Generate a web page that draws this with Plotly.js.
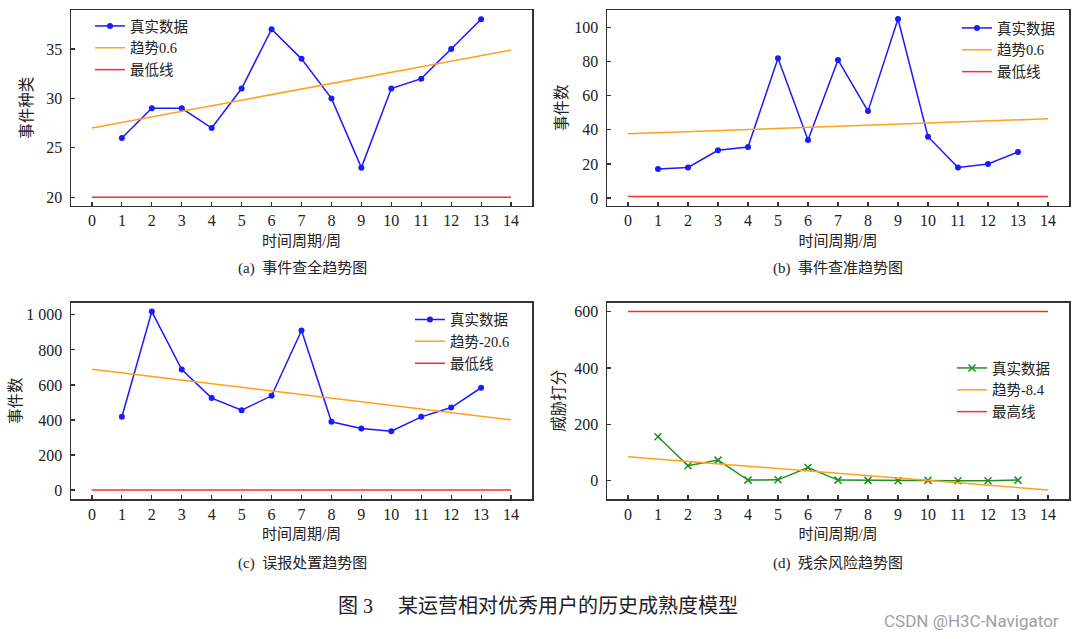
<!DOCTYPE html>
<html>
<head>
<meta charset="utf-8">
<script src="https://cdn.plot.ly/plotly-3.0.1.min.js"></script>
<style>html,body{margin:0;padding:0;background:#fff;}#chart{width:1080px;height:639px;}</style>
</head>
<body>
<div id="chart"></div>
<script>
// ---- data ----
const weeks = [1,2,3,4,5,6,7,8,9,10,11,12,13];
const lineX = [0, 14];

const realA = [26,29,29,27,31,37,34,30,23,31,32,35,38];
const trendA = [27.0, 34.9];
const minA = [20, 20];

const realB = [17,18,28,30,82,34,81,51,105,36,18,20,27];
const trendB = [37.7, 46.5];
const minB = [1, 1];

const realC = [418,1019,688,525,456,538,911,390,352,336,418,471,584];
const trendC = [690, 401];
const minC = [0, 0];

const realD = [156,53,73,2,3,47,2,1,0,1,0,0,2];
const trendD = [85, -33];
const maxD = [600, 600];

const xTicks = [0,1,2,3,4,5,6,7,8,9,10,11,12,13,14];
const legendNames = {
  real: '真实数据',
  trendA: '趋势0.6', trendB: '趋势0.6', trendC: '趋势-20.6', trendD: '趋势-8.4',
  minLine: '最低线', maxLine: '最高线'
};
const yTitles = ['事件种类', '事件数', '事件数', '威胁打分'];
const xTitle = '时间周期/周';
const captions = ['(a)  事件查全趋势图', '(b)  事件查准趋势图', '(c)  误报处置趋势图', '(d)  残余风险趋势图'];
const figCaption = '图 3　 某运营相对优秀用户的历史成熟度模型';
const watermark = 'CSDN @H3C-Navigator';

// ---- styling ----
const FONT = '"Liberation Serif", "Times New Roman", "DejaVu Serif", "Noto Sans CJK SC", serif';
const BLUE = '#1a1aff', ORANGE = '#ffa21a', RED = '#ff2a2a', GREEN = '#1f8f1f';
const W = 1080, H = 639;
const px = v => v / W;
const py = v => 1 - v / H;

function realTrace(y, xa, ya, leg, color, symbol) {
  const t = {x: weeks, y: y, xaxis: xa, yaxis: ya, legend: leg, name: legendNames.real,
    mode: 'lines+markers', line: {color: color, width: 1.5},
    marker: {color: color, size: 6, symbol: symbol}};
  if (symbol === 'x-thin') t.marker = {color: color, size: 7, symbol: 'x-thin', line: {color: color, width: 1.5}};
  return t;
}
function flat(y, xa, ya, leg, name, color) {
  return {x: lineX, y: y, xaxis: xa, yaxis: ya, legend: leg, name: name,
    mode: 'lines', line: {color: color, width: 1.5}};
}

const traces = [
  realTrace(realA, 'x', 'y', 'legend', BLUE, 'circle'),
  flat(trendA, 'x', 'y', 'legend', legendNames.trendA, ORANGE),
  flat(minA, 'x', 'y', 'legend', legendNames.minLine, RED),

  realTrace(realB, 'x2', 'y2', 'legend2', BLUE, 'circle'),
  flat(trendB, 'x2', 'y2', 'legend2', legendNames.trendB, ORANGE),
  flat(minB, 'x2', 'y2', 'legend2', legendNames.minLine, RED),

  realTrace(realC, 'x3', 'y3', 'legend3', BLUE, 'circle'),
  flat(trendC, 'x3', 'y3', 'legend3', legendNames.trendC, ORANGE),
  flat(minC, 'x3', 'y3', 'legend3', legendNames.minLine, RED),

  realTrace(realD, 'x4', 'y4', 'legend4', GREEN, 'x-thin'),
  flat(trendD, 'x4', 'y4', 'legend4', legendNames.trendD, ORANGE),
  flat(maxD, 'x4', 'y4', 'legend4', legendNames.maxLine, RED)
];

const leftDom = [px(71), px(532)];
const rightDom = [px(607), px(1069)];
const topDom = [py(205.7), py(10)];
const botDom = [py(499), py(302.6)];

function xaxis(dom, anchor) {
  return {domain: dom, anchor: anchor, range: [-0.7, 14.7], tickmode: 'array', tickvals: xTicks,
    ticks: 'inside', ticklen: 4, tickwidth: 1.2, tickcolor: '#333',
    showline: true, linecolor: '#333', linewidth: 1.5, mirror: true,
    showgrid: false, zeroline: false, fixedrange: true,
    tickfont: {family: FONT, size: 16, color: '#222'},
    title: {text: xTitle, font: {family: FONT, size: 15, color: '#222'}, standoff: 7}};
}
function yaxis(dom, anchor, range, dtick, title, standoff) {
  return {domain: dom, anchor: anchor, range: range, dtick: dtick, tickformat: ',d',
    ticks: 'inside', ticklen: 4, tickwidth: 1.2, tickcolor: '#333',
    showline: true, linecolor: '#333', linewidth: 1.5, mirror: true,
    showgrid: false, zeroline: false, fixedrange: true, ticklabelstandoff: 4,
    tickfont: {family: FONT, size: 16, color: '#222'},
    title: {text: title, font: {family: FONT, size: 15.5, color: '#222'}, standoff: standoff}};
}
function legend(xl, yt) {
  return {x: px(xl), y: py(yt), xanchor: 'left', yanchor: 'top', bgcolor: 'rgba(0,0,0,0)',
    borderwidth: 0, itemwidth: 30, tracegroupgap: 0,
    font: {family: FONT, size: 14.5, color: '#222'}};
}
function ann(text, x, y, size, color, fam) {
  return {text: text, x: px(x), y: py(y), xref: 'paper', yref: 'paper', showarrow: false,
    xanchor: 'center', yanchor: 'middle', font: {family: fam || FONT, size: size, color: color || '#222'}};
}

const layout = {
  width: W, height: H, margin: {l: 0, r: 0, t: 0, b: 0},
  paper_bgcolor: '#fff', plot_bgcolor: '#fff', separators: '. ',
  showlegend: true,
  xaxis: xaxis(leftDom, 'y'), yaxis: yaxis(topDom, 'x', [19.15, 38.94], 5, yTitles[0], 10),
  xaxis2: xaxis(rightDom, 'y2'), yaxis2: yaxis(topDom, 'x2', [-4.46, 110.3], 20, yTitles[1], 3),
  xaxis3: xaxis(leftDom, 'y3'), yaxis3: yaxis(botDom, 'x3', [-51, 1070], 200, yTitles[2], 1),
  xaxis4: xaxis(rightDom, 'y4'), yaxis4: yaxis(botDom, 'x4', [-65, 632], 200, yTitles[3], 6),
  legend: legend(90, 10), legend2: legend(957, 12), legend3: legend(410, 303.5), legend4: legend(952, 352),
  annotations: [
    ann(captions[0], 302, 268, 15), ann(captions[1], 838, 268, 15),
    ann(captions[2], 302, 563, 15), ann(captions[3], 838, 563, 15),
    ann(figCaption, 538, 606, 20),
    ann(watermark, 971, 621, 17, '#a0a0a0', '"Liberation Sans Narrow", Roboto, sans-serif')
  ]
};

Plotly.newPlot('chart', traces, layout, {staticPlot: true, displayModeBar: false});
</script>
</body>
</html>
